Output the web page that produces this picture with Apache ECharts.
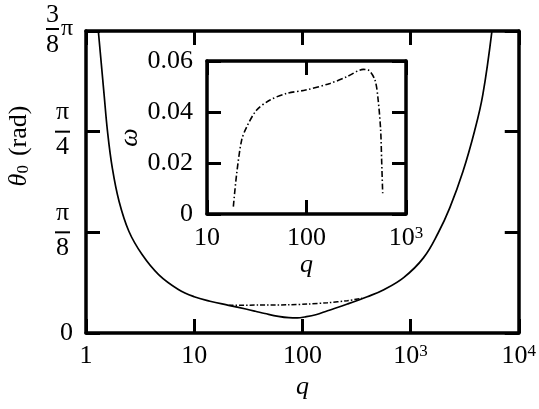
<!DOCTYPE html>
<html>
<head>
<meta charset="utf-8">
<script src="https://cdn.jsdelivr.net/npm/echarts@6/dist/echarts.min.js"></script>
<style>
html, body { margin: 0; padding: 0; background: #fff; }
#main { width: 539px; height: 409px; }
</style>
</head>
<body>
<div id="main"></div>
<script>
// main panel: theta_0 (rad) against q, solid curve
var qMain = [1.30, 1.47, 1.58, 1.75, 2.02, 2.49, 3.30, 4.69, 7.14, 10, 14, 20.8, 30, 36.7, 45, 60, 75, 90, 105, 133, 171, 261, 398, 566, 863, 1315, 1803, 2303, 3055, 3900, 4656, 5650];
var thetaMain = [1.178, 0.930, 0.787, 0.644, 0.514, 0.397, 0.306, 0.228, 0.170, 0.1415, 0.124, 0.108, 0.0935, 0.085, 0.076, 0.0647, 0.0596, 0.0589, 0.0624, 0.0713, 0.0869, 0.113, 0.1415, 0.169, 0.216, 0.293, 0.391, 0.488, 0.631, 0.787, 0.930, 1.178];
// main panel: dash-dot branch
var qBranch = [20.8, 39, 74, 112, 171, 261, 357];
var thetaBranch = [0.108, 0.109, 0.110, 0.113, 0.118, 0.126, 0.136];
// inset: omega against q
var qInset = [18.4, 19.9, 22.3, 25.1, 31.6, 43, 63, 98, 172, 254, 372, 417, 488, 525, 556, 569, 583];
var omega = [0.0029, 0.016, 0.029, 0.0342, 0.0408, 0.0447, 0.0473, 0.0486, 0.0512, 0.0538, 0.0567, 0.0565, 0.0525, 0.0447, 0.033, 0.0212, 0.0081];

// tick labels
var mainXTickLabels = ['1', '10', '100', '{b|10}{s|3}', '{b|10}{s|4}'];
var mainYTickLabels = ['0', '{n|π}{e|}\n{bar|}{e|}\n{d|8}{e|}\n{g|}', '{n|π}{e|}\n{bar|}{e|}\n{d|4}{e|}\n{g|}', '{n3|3}{sp|}\n{bar3|}{p|π}\n{d3|8}{sp|}'];
var insetXTickLabels = ['10', '100', '{b|10}{s|3}'];
var insetYTickLabels = ['0', '0.02', '0.04', '0.06'];

var FONT = 'Liberation Serif';
var PI8 = Math.PI / 8;

function pairs(xs, ys) {
  var out = [];
  for (var i = 0; i < xs.length; i++) out.push([xs[i], ys[i]]);
  return out;
}

var frame = { show: true, onZero: false, lineStyle: { color: '#000', width: 3.5 } };
var ticks = { show: true, inside: true, length: 14, lineStyle: { color: '#000', width: 3 } };
var baseLabel = { color: '#000', fontFamily: FONT, fontSize: 26 };
var supRich = {
  b: { fontFamily: FONT, fontSize: 26, lineHeight: 26, color: '#000' },
  s: { fontFamily: FONT, fontSize: 17, lineHeight: 14, verticalAlign: 'top', color: '#000' }
};
var fracRich = {
  n: { fontFamily: FONT, fontSize: 26, width: 15, align: 'center', lineHeight: 34, color: '#000' },
  d: { fontFamily: FONT, fontSize: 26, width: 15, align: 'center', lineHeight: 28, color: '#000' },
  bar: { width: 15, height: 2, lineHeight: 4, backgroundColor: '#000' },
  e: { width: 3, lineHeight: 4 },
  g: { width: 1, lineHeight: 6 },
  n3: { fontFamily: FONT, fontSize: 26, width: 13, align: 'center', lineHeight: 24, color: '#000' },
  d3: { fontFamily: FONT, fontSize: 26, width: 13, align: 'center', lineHeight: 28, color: '#000' },
  bar3: { width: 13, height: 2, lineHeight: 4, backgroundColor: '#000' },
  p: { fontFamily: FONT, fontSize: 24, width: 14, align: 'right', lineHeight: 4, color: '#000' },
  sp: { width: 14, lineHeight: 4 }
};
var nameStyle = { color: '#000', fontFamily: FONT, fontSize: 26, fontStyle: 'italic' };

var chart = echarts.init(document.getElementById('main'));
var option = {
  animation: false,
  backgroundColor: '#fff',
  grid: [
    { left: 86, right: 16, top: 31, bottom: 76 },
    { left: 207, top: 61, width: 199, height: 153 }
  ],
  xAxis: [
    {
      type: 'log', gridIndex: 0, min: 1, max: 10000, position: 'bottom',
      axisLine: frame, axisTick: ticks, splitLine: { show: false },
      axisLabel: Object.assign({}, baseLabel, {
        margin: 10, rich: supRich,
        formatter: function (v) { return mainXTickLabels[Math.round(Math.log10(v))]; }
      }),
      name: 'q', nameLocation: 'middle', nameGap: 38, nameTextStyle: nameStyle
    },
    {
      type: 'log', gridIndex: 0, min: 1, max: 10000, position: 'top',
      axisLine: frame, axisTick: ticks, splitLine: { show: false }, axisLabel: { show: false }
    },
    {
      type: 'log', gridIndex: 1, min: 10, max: 1000, position: 'bottom',
      axisLine: frame, axisTick: ticks, splitLine: { show: false },
      axisLabel: Object.assign({}, baseLabel, {
        margin: 11, rich: supRich,
        formatter: function (v) { return insetXTickLabels[Math.round(Math.log10(v)) - 1]; }
      }),
      name: 'q', nameLocation: 'middle', nameGap: 36, nameTextStyle: nameStyle
    },
    {
      type: 'log', gridIndex: 1, min: 10, max: 1000, position: 'top',
      axisLine: frame, axisTick: ticks, splitLine: { show: false }, axisLabel: { show: false }
    }
  ],
  yAxis: [
    {
      type: 'value', gridIndex: 0, min: 0, max: 3 * PI8, interval: PI8, position: 'left',
      axisLine: frame, axisTick: ticks, splitLine: { show: false },
      axisLabel: Object.assign({}, baseLabel, {
        margin: 13, rich: fracRich,
        formatter: function (v) { return mainYTickLabels[Math.round(v / PI8)]; }
      })
    },
    {
      type: 'value', gridIndex: 0, min: 0, max: 3 * PI8, interval: PI8, position: 'right',
      axisLine: frame, axisTick: ticks, splitLine: { show: false }, axisLabel: { show: false }
    },
    {
      type: 'value', gridIndex: 1, min: 0, max: 0.06, interval: 0.02, position: 'left',
      axisLine: frame, axisTick: ticks, splitLine: { show: false },
      axisLabel: Object.assign({}, baseLabel, {
        margin: 14,
        formatter: function (v) { return insetYTickLabels[Math.round(v / 0.02)]; }
      }),
      name: 'ω', nameLocation: 'middle', nameGap: 46, nameTextStyle: nameStyle
    },
    {
      type: 'value', gridIndex: 1, min: 0, max: 0.06, interval: 0.02, position: 'right',
      axisLine: frame, axisTick: ticks, splitLine: { show: false }, axisLabel: { show: false }
    }
  ],
  graphic: [
    {
      type: 'text', x: 19, y: 146, rotation: Math.PI / 2,
      style: {
        text: '{t|θ}{s|0}{w|}{r|(rad)}',
        align: 'center', verticalAlign: 'middle',
        rich: {
          t: { fontFamily: FONT, fontSize: 26, fontStyle: 'italic', lineHeight: 26, fill: '#000' },
          s: { fontFamily: FONT, fontSize: 17, lineHeight: 12, verticalAlign: 'bottom', fill: '#000' },
          w: { width: 9, lineHeight: 12 },
          r: { fontFamily: FONT, fontSize: 26, lineHeight: 26, fill: '#000' }
        }
      }
    }
  ],
  series: [
    {
      type: 'line', xAxisIndex: 0, yAxisIndex: 0, data: pairs(qMain, thetaMain),
      showSymbol: false, symbol: 'none', smooth: 0.4,
      lineStyle: { color: '#000', width: 1.7 }
    },
    {
      type: 'line', xAxisIndex: 0, yAxisIndex: 0, data: pairs(qBranch, thetaBranch),
      showSymbol: false, symbol: 'none', smooth: 0.3,
      lineStyle: { color: '#000', width: 1.5, type: [5, 2, 1.5, 2] }
    },
    {
      type: 'line', xAxisIndex: 2, yAxisIndex: 2, data: pairs(qInset, omega),
      showSymbol: false, symbol: 'none', smooth: 0.3,
      lineStyle: { color: '#000', width: 1.6, type: [6, 2.5, 1.5, 2.5] }
    }
  ]
};
chart.setOption(option);
</script>
</body>
</html>
